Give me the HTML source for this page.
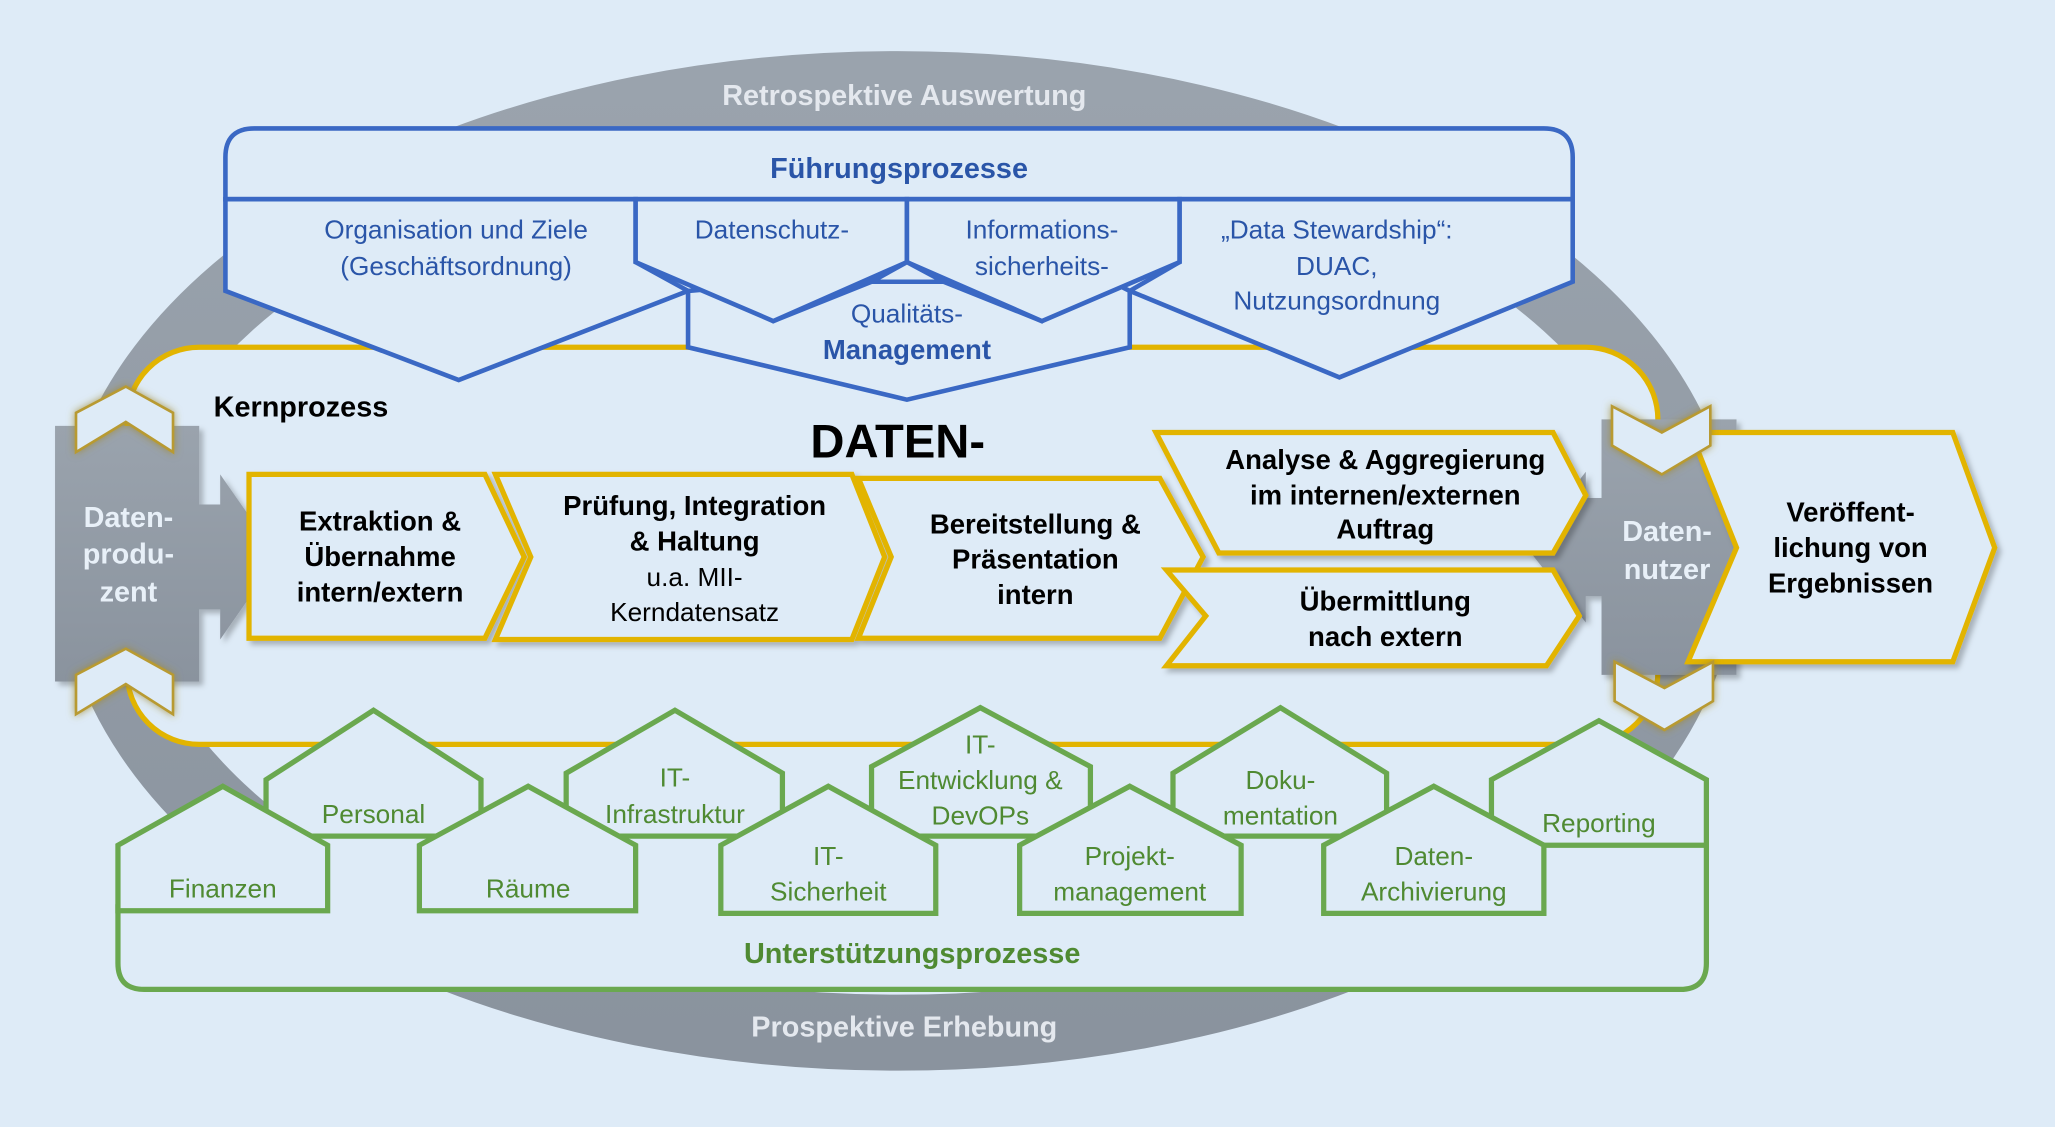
<!DOCTYPE html>
<html><head><meta charset="utf-8"><style>
html,body{margin:0;padding:0;background:#deebf7;}
svg{display:block}
text{font-family:"Liberation Sans",Arial,sans-serif;}
</style></head><body>
<svg width="2055" height="1127" viewBox="0 0 1568 860" preserveAspectRatio="none" xmlns="http://www.w3.org/2000/svg">
<defs>
<linearGradient id="gr" x1="0" y1="0" x2="0" y2="1">
<stop offset="0" stop-color="#9aa3ad"/><stop offset="1" stop-color="#8a939e"/>
</linearGradient>
<filter id="sh" x="-10%" y="-10%" width="130%" height="130%"><feDropShadow dx="3" dy="3" stdDeviation="2" flood-color="#000" flood-opacity="0.25"/></filter>
<filter id="gl" x="-30%" y="-30%" width="160%" height="160%"><feDropShadow dx="0" dy="0" stdDeviation="3" flood-color="#a08a30" flood-opacity="0.8"/></filter>
</defs>
<rect width="1568" height="860" fill="#deebf7"/>
<ellipse cx="685" cy="428" rx="612" ry="360" fill="none" stroke="url(#gr)" stroke-width="58"/>
<text x="690" y="80" text-anchor="middle" font-size="22" font-weight="bold" fill="#e4e8ee">Retrospektive Auswertung</text>
<text x="690" y="791" text-anchor="middle" font-size="22" font-weight="bold" fill="#e4e8ee">Prospektive Erhebung</text>
<rect x="97" y="265" width="1168" height="303" rx="55" fill="#deebf7" stroke="#e2b400" stroke-width="4"/>
<g fill="#deebf7" stroke="#3a68c4" stroke-width="3.5" stroke-linejoin="miter">
<path d="M172,152 V120 Q172,98 194,98 H1178 Q1200,98 1200,120 V152 Z"/>
<path d="M172,152 H485 V200 L525,222 L350,290 L172,222 Z"/>
<path d="M862,222 L900,200 V152 H1200 V215 L1022,288 Z"/>
<path d="M525,222 L525,265 L692,305 L862,265 L862,222 L838,210 L795,245 L720,215 H665 L590,245 L548,220 Z"/>
<path d="M485,152 H692 V200 L590,245 L485,200 Z"/>
<path d="M692,152 H900 V200 L795,245 L692,200 Z"/>
<path d="M665,215 L692,200 L720,215 Z"/>
</g>
<g fill="#2a55a8" font-size="20" text-anchor="middle">
<text x="686" y="136" font-weight="bold" font-size="22">Führungsprozesse</text>
<text x="348" y="182">Organisation und Ziele</text>
<text x="348" y="210">(Geschäftsordnung)</text>
<text x="589" y="182">Datenschutz-</text>
<text x="795" y="182">Informations-</text>
<text x="795" y="210">sicherheits-</text>
<text x="1020" y="182">„Data Stewardship“:</text>
<text x="1020" y="210">DUAC,</text>
<text x="1020" y="236">Nutzungsordnung</text>
<text x="692" y="246">Qualitäts-</text>
<text x="692" y="274" font-weight="bold" font-size="21">Management</text>
</g>
<text x="163" y="318" font-size="22" font-weight="bold" fill="#000">Kernprozess</text>
<text x="685" y="349" text-anchor="middle" font-size="36" font-weight="bold" fill="#000">DATEN-</text>
<g filter="url(#sh)">
<path d="M42,325 H152 V385 H168 V362 L212,425 L168,488 V465 H152 V520 H42 Z" fill="url(#gr)"/>
<path d="M1222,320 H1325 V515 H1222 V455 H1210 V475 L1165,418 L1210,360 V380 H1222 Z" fill="url(#gr)"/>
</g>
<g fill="#e8f0f8" font-size="22" font-weight="bold" text-anchor="middle">
<text x="98" y="402">Daten-</text>
<text x="98" y="430">produ-</text>
<text x="98" y="459">zent</text>
</g>
<g fill="#deebf7" stroke="#e2b400" stroke-width="4" filter="url(#sh)">
<path d="M190,362 H370 L400,425 L370,487 H190 Z"/>
<path d="M378,362 H650 L675,425 L650,488 H378 L405,425 Z"/>
<path d="M655,365 H885 L918,425 L885,487 H655 L680,425 Z"/>
<path d="M882,330 H1185 L1210,378 L1185,422 H930 Z"/>
<path d="M890,435 H1185 L1205,470 L1180,508 H890 L920,470 Z"/>
<path d="M1290,330 H1490 L1522,418 L1490,505 H1288 L1325,418 Z"/>
</g>
<g fill="#e8f0f8" font-size="22" font-weight="bold" text-anchor="middle">
<text x="1272" y="413">Daten-</text>
<text x="1272" y="442">nutzer</text>
</g>
<g fill="#000" font-size="21" font-weight="bold" text-anchor="middle">
<text x="290" y="405">Extraktion &amp;</text>
<text x="290" y="432">Übernahme</text>
<text x="290" y="459">intern/extern</text>
<text x="530" y="393">Prüfung, Integration</text>
<text x="530" y="420">&amp; Haltung</text>
<text x="530" y="447" font-weight="normal" font-size="20">u.a. MII-</text>
<text x="530" y="474" font-weight="normal" font-size="20">Kerndatensatz</text>
<text x="790" y="407">Bereitstellung &amp;</text>
<text x="790" y="434">Präsentation</text>
<text x="790" y="461">intern</text>
<text x="1057" y="358">Analyse &amp; Aggregierung</text>
<text x="1057" y="385">im internen/externen</text>
<text x="1057" y="411">Auftrag</text>
<text x="1057" y="466">Übermittlung</text>
<text x="1057" y="493">nach extern</text>
<text x="1412" y="398">Veröffent-</text>
<text x="1412" y="425">lichung von</text>
<text x="1412" y="452">Ergebnissen</text>
</g>
<g fill="#deebf7" stroke="#b89a30" stroke-width="2" filter="url(#gl)">
<path d="M58,315 L96,295 L132,315 V345 L96,322 L58,345 Z"/>
<path d="M58,515 L96,495 L132,515 V545 L96,522 L58,545 Z"/>
<path d="M1230,310 L1268,330 L1305,310 V340 L1268,362 L1230,340 Z"/>
<path d="M1232,505 L1270,525 L1307,505 V535 L1270,557 L1232,535 Z"/>
</g>
<rect x="90" y="640" width="1212" height="115" rx="20" fill="#deebf7"/>
<path d="M90,690 V735 Q90,755 110,755 H1282 Q1302,755 1302,735 V645" fill="none" stroke="#6aa84f" stroke-width="4"/>
<g fill="#deebf7" stroke="#6aa84f" stroke-width="4">
<path d="M203,638 V595 L285,542 L367,595 V638 Z"/>
<path d="M432,638 V590 L515,542 L597,590 V638 Z"/>
<path d="M665,638 V585 L748,540 L832,585 V638 Z"/>
<path d="M895,638 V590 L977,540 L1058,590 V638 Z"/>
<path d="M1138,645 V595 L1220,550 L1302,595 V645 Z"/>
<path d="M90,695 V645 L170,600 L250,645 V695 Z"/>
<path d="M320,695 V645 L403,600 L485,645 V695 Z"/>
<path d="M550,697 V645 L632,600 L714,645 V697 Z"/>
<path d="M778,697 V645 L862,600 L947,645 V697 Z"/>
<path d="M1010,697 V645 L1094,600 L1178,645 V697 Z"/>
</g>
<g fill="#4f8a32" font-size="20" text-anchor="middle">
<text x="285" y="628">Personal</text>
<text x="515" y="600">IT-</text>
<text x="515" y="628">Infrastruktur</text>
<text x="748" y="575">IT-</text>
<text x="748" y="602">Entwicklung &amp;</text>
<text x="748" y="629">DevOPs</text>
<text x="977" y="602">Doku-</text>
<text x="977" y="629">mentation</text>
<text x="1220" y="635">Reporting</text>
<text x="170" y="685">Finanzen</text>
<text x="403" y="685">Räume</text>
<text x="632" y="660">IT-</text>
<text x="632" y="687">Sicherheit</text>
<text x="862" y="660">Projekt-</text>
<text x="862" y="687">management</text>
<text x="1094" y="660">Daten-</text>
<text x="1094" y="687">Archivierung</text>
<text x="696" y="735" font-weight="bold" font-size="22">Unterstützungsprozesse</text>
</g>
</svg>
</body></html>
